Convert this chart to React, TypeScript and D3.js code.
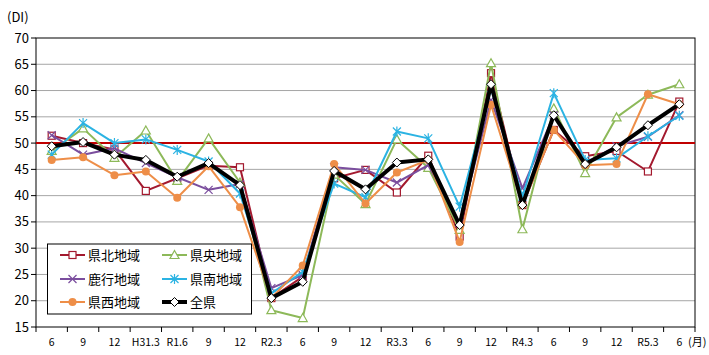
import React from "react";
import * as d3 from "d3";

const categories = ["6","9","12","H31.3","R1.6","9","12","R2.3","6","9","12","R3.3","6","9","12","R4.3","6","9","12","R5.3","6"];
const yTicks = [15,20,25,30,35,40,45,50,55,60,65,70];

const kenpoku = [51.4,50.0,48.8,40.9,43.3,45.7,45.4,20.5,24.6,43.3,44.9,40.6,47.6,32.2,63.3,38.2,52.5,47.5,48.5,44.6,57.9];
const kenou = [48.5,52.8,47.2,52.4,42.8,50.9,42.5,18.2,16.7,44.0,38.4,50.7,45.3,33.5,65.2,33.6,56.6,44.3,54.9,59.2,61.2];
const rokko = [51.5,47.8,49.0,46.2,43.5,41.1,42.2,22.4,24.9,45.4,44.9,42.5,45.8,34.8,58.2,41.4,55.3,46.2,49.4,51.2,55.3];
const kennan = [47.8,53.8,50.0,50.7,48.7,46.5,40.4,21.4,25.5,42.3,39.7,52.2,50.9,37.9,60.4,39.8,59.5,46.8,47.1,51.3,55.2];
const kensei = [46.8,47.3,43.9,44.6,39.6,45.6,37.8,20.5,26.7,46.0,38.5,44.4,46.8,31.2,57.3,38.2,52.5,45.8,46.0,59.3,57.4];
const zenken = [49.4,50.2,47.8,46.8,43.6,46.2,42.0,20.5,23.6,44.7,41.2,46.3,46.9,34.4,61.2,38.2,55.3,46.0,49.2,53.4,57.4];

type Marker = "square" | "triangle" | "x" | "star" | "circle" | "diamond";
const series: { name: string; values: number[]; color: string; marker: Marker; width: number }[] = [
  { name: "県北地域", values: kenpoku, color: "#A3192E", marker: "square", width: 2 },
  { name: "県央地域", values: kenou, color: "#8DB959", marker: "triangle", width: 2 },
  { name: "鹿行地域", values: rokko, color: "#7B4E9E", marker: "x", width: 2 },
  { name: "県南地域", values: kennan, color: "#2BB3E3", marker: "star", width: 2 },
  { name: "県西地域", values: kensei, color: "#EE8E48", marker: "circle", width: 2 },
  { name: "全県", values: zenken, color: "#000000", marker: "diamond", width: 4 },
];

const W = 709, H = 355;
const left = 36, right = 695, top = 38, bottom = 327;

function MarkerShape({ type, x, y, color }: { type: Marker; x: number; y: number; color: string }) {
  switch (type) {
    case "square":
      return <rect x={x - 3.5} y={y - 3.5} width={7} height={7} fill="white" stroke={color} strokeWidth={1.2} />;
    case "triangle":
      return <path d={`M${x},${y - 4.5}L${x + 4.5},${y + 3.5}L${x - 4.5},${y + 3.5}Z`} fill="white" stroke={color} strokeWidth={1.2} />;
    case "x":
      return <path d={`M${x - 4},${y - 4}L${x + 4},${y + 4}M${x - 4},${y + 4}L${x + 4},${y - 4}`} stroke={color} strokeWidth={1.2} />;
    case "star":
      return <path d={`M${x - 4},${y - 4}L${x + 4},${y + 4}M${x - 4},${y + 4}L${x + 4},${y - 4}M${x},${y - 5}L${x},${y + 5}`} stroke={color} strokeWidth={1.2} />;
    case "circle":
      return <circle cx={x} cy={y} r={4} fill={color} />;
    case "diamond":
      return <path d={`M${x},${y - 4.5}L${x + 4.5},${y}L${x},${y + 4.5}L${x - 4.5},${y}Z`} fill="white" stroke={color} strokeWidth={1} />;
  }
}

export default function App() {
  const x = d3.scaleBand<string>().domain(categories.map((_, i) => String(i))).range([left, right]);
  const y = d3.scaleLinear().domain([15, 70]).range([bottom, top]);
  const cx = (i: number) => (x(String(i)) as number) + x.bandwidth() / 2;
  const line = d3.line<number>().x((_, i) => cx(i)).y((v) => y(v));
  const font = "'Noto Sans CJK JP', 'Noto Sans', sans-serif";

  const legendItems = [
    { s: series[0], lx: 60, ly: 255 },
    { s: series[1], lx: 162, ly: 255 },
    { s: series[2], lx: 60, ly: 279 },
    { s: series[3], lx: 162, ly: 279 },
    { s: series[4], lx: 60, ly: 302 },
    { s: series[5], lx: 162, ly: 302 },
  ];

  return (
    <svg width={W} height={H} style={{ position: "absolute", left: 0, top: 0, background: "white" }} fontFamily={font}>
      <rect x={0} y={0} width={W} height={H} fill="white" />
      {yTicks.filter((t) => t !== 15 && t !== 70).map((t) => (
        <line key={t} x1={left} x2={right} y1={y(t)} y2={y(t)} stroke="#A6A6A6" strokeWidth={1} />
      ))}
      <rect x={left} y={top} width={right - left} height={bottom - top} fill="none" stroke="#000" strokeWidth={1} />
      {yTicks.map((t) => (
        <g key={t}>
          <line x1={left - 5} x2={left} y1={y(t)} y2={y(t)} stroke="#000" />
          <text x={29} y={y(t)} dy="0.35em" textAnchor="end" fontSize={13} fill="#000">{t}</text>
        </g>
      ))}
      {categories.map((c, i) => (
        <g key={i}>
          <line x1={x(String(i)) as number} x2={x(String(i)) as number} y1={bottom} y2={bottom + 5} stroke="#000" />
          <text x={cx(i)} y={346} textAnchor="middle" fontSize={10.5} fill="#000">{c}</text>
        </g>
      ))}
      <line x1={right} x2={right} y1={bottom} y2={bottom + 5} stroke="#000" />
      <text x={7} y={22} fontSize={13} fill="#000">(DI)</text>
      <text x={688} y={346} fontSize={11} fill="#000">(月)</text>
      <line x1={left} x2={right} y1={y(50)} y2={y(50)} stroke="#C00000" strokeWidth={2} />
      {series.map((s) => (
        <g key={s.name}>
          <path d={line(s.values) || ""} fill="none" stroke={s.color} strokeWidth={s.width} strokeLinejoin="round" />
          {s.values.map((v, i) => (
            <MarkerShape key={i} type={s.marker} x={cx(i)} y={y(v)} color={s.color} />
          ))}
        </g>
      ))}
      <rect x={47.5} y={244} width={204} height={70} fill="white" stroke="#000" strokeWidth={1} />
      {legendItems.map(({ s, lx, ly }) => (
        <g key={s.name}>
          <line x1={lx} x2={lx + 25} y1={ly} y2={ly} stroke={s.color} strokeWidth={s.width} />
          <MarkerShape type={s.marker} x={lx + 12.5} y={ly} color={s.color} />
          <text x={lx + 28} y={ly} dy="0.36em" fontSize={13} fill="#000">{s.name}</text>
        </g>
      ))}
    </svg>
  );
}
